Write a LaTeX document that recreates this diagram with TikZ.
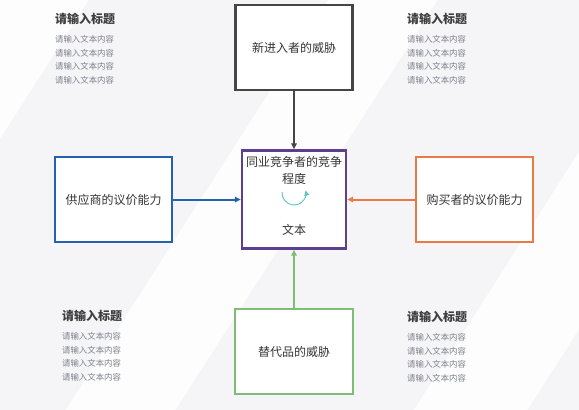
\documentclass[tikz,border=0pt]{standalone}
\usepackage{fontspec}
\setmainfont{Noto Sans CJK SC}
\usetikzlibrary{arrows.meta}
\definecolor{bggray}{HTML}{F5F5F7}
\definecolor{bgwhite}{HTML}{FDFDFD}
\definecolor{cdark}{HTML}{454545}
\definecolor{cpurple}{HTML}{5C3F8E}
\definecolor{cblue}{HTML}{2262AE}
\definecolor{corange}{HTML}{E97A45}
\definecolor{cgreen}{HTML}{7DBE72}
\definecolor{cteal}{HTML}{5CC5BE}
\definecolor{ctitle}{HTML}{3E3E3E}
\definecolor{cbody}{HTML}{7C808A}
\definecolor{clabel}{HTML}{353535}
\begin{document}
\begin{tikzpicture}[x=1pt,y=-1pt,
  box/.style={draw, line width=2.4pt, fill=white, inner sep=0pt},
  lbl/.style={text=clabel, font=\fontsize{12}{14}\selectfont, inner sep=0pt},
  ttl/.style={text=ctitle, font=\fontsize{12}{14}\selectfont\bfseries, anchor=west, inner sep=0pt},
  bdy/.style={text=cbody, font=\fontsize{8.4}{10}\selectfont, anchor=west, inner sep=0pt},
  conn/.style={line width=2pt, -{Triangle[length=6pt,width=5.5pt]}}]
\useasboundingbox (0,0) rectangle (579,410);
\fill[bgwhite] (0,0) rectangle (579,410);
\begin{scope}
\clip (0,0) rectangle (579,410);
\foreach \a/\b in {89/328, 438/676, 790/1100}{
  \fill[bggray] (\a,0) -- (\b,0) -- ({\b-262.4},410) -- ({\a-262.4},410) -- cycle;
}
\end{scope}

% boxes
\node[box, draw=cdark, minimum width=117pt, minimum height=85pt] (top) at (294,47.5) {};
\node[lbl] (toplbl) at (294,48) {新进入者的威胁};
\node[box, draw=cpurple, minimum width=104pt, minimum height=98pt] (mid) at (294,199.5) {};
\node[lbl] (midl1) at (294,162) {同业竞争者的竞争};
\node[lbl] (midl2) at (294,179) {程度};
\node[lbl] (midl3) at (294,230) {文本};
\node[box, draw=cblue, minimum width=117pt, minimum height=85pt] (left) at (113.5,199.5) {};
\node[lbl] (leftlbl) at (113.5,200) {供应商的议价能力};
\node[box, draw=corange, minimum width=117pt, minimum height=85pt] (right) at (474.5,199.5) {};
\node[lbl] (rightlbl) at (474.5,200) {购买者的议价能力};
\node[box, draw=cgreen, minimum width=118pt, minimum height=85pt] (bot) at (294,351.5) {};
\node[lbl] (botlbl) at (294,352) {替代品的威胁};

% curved arrow
\coordinate (arcs) at (282.05,191.95);
\draw[cteal, line width=0.9pt, -{Triangle[length=5pt,width=5pt]}] (arcs) arc[start angle=185, end angle=-12, radius=12];

% connectors
\draw[conn, cdark] (top.south) -- (mid.north);
\draw[conn, cblue] (left.east) -- (mid.west);
\draw[conn, corange] (right.west) -- (mid.east);
\draw[conn, cgreen] (bot.north) -- (mid.south);

% corner texts
\node[ttl] (tlt) at (55,19) {请输入标题};
\node[bdy] (tl1) at (55,39) {请输入文本内容};
\node[bdy] (tl2) at (55,53) {请输入文本内容};
\node[bdy] (tl3) at (55,66) {请输入文本内容};
\node[bdy] (tl4) at (55,80) {请输入文本内容};

\node[ttl] (trt) at (407,19) {请输入标题};
\node[bdy] (tr1) at (407,39) {请输入文本内容};
\node[bdy] (tr2) at (407,53) {请输入文本内容};
\node[bdy] (tr3) at (407,66) {请输入文本内容};
\node[bdy] (tr4) at (407,80) {请输入文本内容};

\node[ttl] (blt) at (62,316) {请输入标题};
\node[bdy] (bl1) at (62,336) {请输入文本内容};
\node[bdy] (bl2) at (62,350) {请输入文本内容};
\node[bdy] (bl3) at (62,363) {请输入文本内容};
\node[bdy] (bl4) at (62,377) {请输入文本内容};

\node[ttl] (brt) at (407,317) {请输入标题};
\node[bdy] (br1) at (407,337) {请输入文本内容};
\node[bdy] (br2) at (407,351) {请输入文本内容};
\node[bdy] (br3) at (407,364) {请输入文本内容};
\node[bdy] (br4) at (407,378) {请输入文本内容};
\end{tikzpicture}
\end{document}
